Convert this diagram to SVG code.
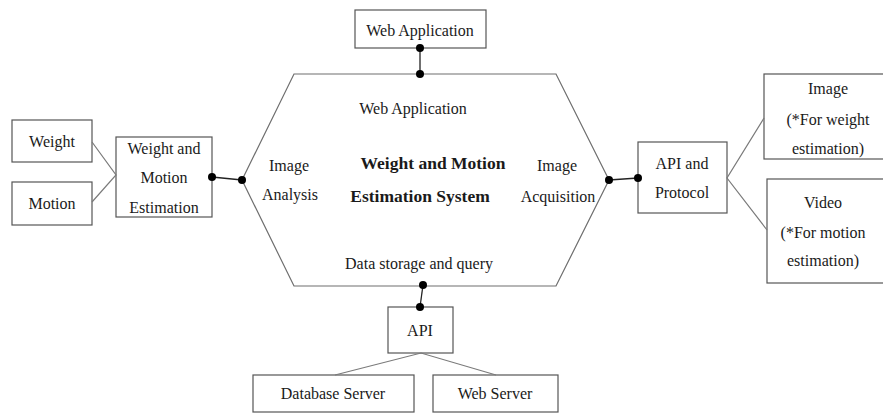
<svg xmlns="http://www.w3.org/2000/svg" width="883" height="413" viewBox="0 0 883 413">
  <style>
    .box { fill: #ffffff; stroke: #555555; stroke-width: 1.2; }
    .hex { fill: #ffffff; stroke: #6e6e6e; stroke-width: 1.2; }
    .link { stroke: #222222; stroke-width: 1.3; fill: none; }
    .branch { stroke: #7a7a7a; stroke-width: 1.2; fill: none; }
    .dot { fill: #000000; }
    text { font-family: "Liberation Serif", "Times New Roman", serif; font-size: 16px; fill: #1a1a1a; text-anchor: middle; dominant-baseline: central; }
    .title { font-weight: bold; font-size: 17.5px; }
  </style>

  <!-- central hexagon -->
  <g id="system">
    <polygon class="hex" points="294,74 556,74 609,180 556,286 294,286 242,180"/>
    <text x="413" y="108">Web Application</text>
    <text x="289" y="165">Image</text>
    <text x="290" y="194">Analysis</text>
    <text class="title" x="433" y="163">Weight and Motion</text>
    <text class="title" x="420" y="196">Estimation System</text>
    <text x="557" y="165">Image</text>
    <text x="558" y="196">Acquisition</text>
    <text x="419" y="263">Data storage and query</text>
  </g>

  <g id="web-application">
    <rect class="box" x="355" y="10" width="131" height="38"/>
    <text x="420" y="30">Web Application</text>
  </g>

  <g id="weight">
    <rect class="box" x="12" y="120" width="80" height="42"/>
    <text x="52" y="141">Weight</text>
  </g>

  <g id="motion">
    <rect class="box" x="12" y="182" width="80" height="43"/>
    <text x="52" y="203">Motion</text>
  </g>

  <g id="estimation">
    <rect class="box" x="116" y="137" width="96" height="80"/>
    <text x="164" y="148">Weight and</text>
    <text x="164" y="177">Motion</text>
    <text x="164" y="207">Estimation</text>
  </g>

  <g id="api-protocol">
    <rect class="box" x="638" y="142" width="89" height="71"/>
    <text x="682" y="163">API and</text>
    <text x="682" y="192">Protocol</text>
  </g>

  <g id="image-input">
    <rect class="box" x="764" y="74" width="130" height="85"/>
    <text x="828" y="88">Image</text>
    <text x="828" y="119">(*For weight</text>
    <text x="828" y="148">estimation)</text>
  </g>

  <g id="video-input">
    <rect class="box" x="767" y="179" width="130" height="104"/>
    <text x="823" y="202">Video</text>
    <text x="823" y="232">(*For motion</text>
    <text x="823" y="260">estimation)</text>
  </g>

  <g id="api">
    <rect class="box" x="388" y="307" width="65" height="46"/>
    <text x="420" y="330">API</text>
  </g>

  <g id="database-server">
    <rect class="box" x="253" y="375" width="161" height="37"/>
    <text x="333" y="393">Database Server</text>
  </g>

  <g id="web-server">
    <rect class="box" x="433" y="375" width="125" height="37"/>
    <text x="495" y="393">Web Server</text>
  </g>

  <g id="connectors">
    <!-- dotted links to the system -->
    <line class="link" x1="420" y1="48" x2="420" y2="74"/>
    <line class="link" x1="212" y1="177" x2="242" y2="180"/>
    <line class="link" x1="609" y1="180" x2="638" y2="178"/>
    <line class="link" x1="423" y1="285" x2="420" y2="307"/>
    <circle class="dot" cx="420" cy="48" r="4"/>
    <circle class="dot" cx="420" cy="74" r="4"/>
    <circle class="dot" cx="212" cy="177" r="4"/>
    <circle class="dot" cx="242" cy="180" r="4"/>
    <circle class="dot" cx="609" cy="180" r="4"/>
    <circle class="dot" cx="638" cy="178" r="4"/>
    <circle class="dot" cx="423" cy="285" r="4"/>
    <circle class="dot" cx="420" cy="307" r="4"/>
    <!-- fan-out branches -->
    <polyline class="branch" points="92,142 116,175 92,202"/>
    <polyline class="branch" points="764,118 727,178 767,230"/>
    <polyline class="branch" points="335,375 421,353 496,375"/>
  </g>
</svg>
